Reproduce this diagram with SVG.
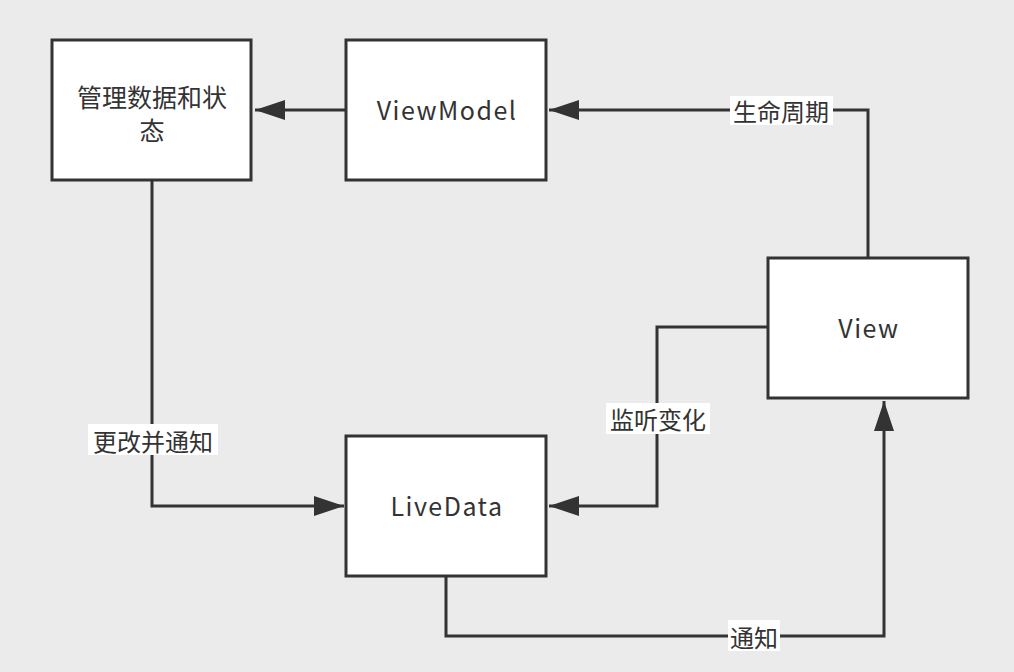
<svg xmlns="http://www.w3.org/2000/svg" width="1014" height="672" viewBox="0 0 1014 672">
<style>
.node rect{fill:#fff;stroke:#333;stroke-width:3}
.node text,.lbl text{font-family:"Noto Sans CJK SC","Noto Sans",sans-serif;font-size:24px;fill:#333;text-anchor:middle;dominant-baseline:central}
.node text{font-size:25px}
.node text.en{letter-spacing:1.5px}
.edge{fill:none;stroke:#333;stroke-width:3}
.lbl rect{fill:#fff}
</style>
<defs>
<marker id="ah" markerUnits="userSpaceOnUse" viewBox="0 0 30 20" refX="30" refY="10" markerWidth="30" markerHeight="20" orient="auto">
<path d="M0,0 L30,10 L0,20 Z" fill="#333"/>
</marker>
</defs>
<rect width="1014" height="672" fill="#ebebeb"/>
<g id="connectors">
<path class="edge" d="M346,110 L255,110" marker-end="url(#ah)"/>
<path class="edge" d="M868,258 L868,110 L549,110" marker-end="url(#ah)"/>
<path class="edge" d="M768,327 L657,327 L657,506 L549,506" marker-end="url(#ah)"/>
<path class="edge" d="M152,180 L152,506 L344,506" marker-end="url(#ah)"/>
<path class="edge" d="M446,576 L446,636 L884,636 L884,401" marker-end="url(#ah)"/>
<g class="lbl">
<rect x="730" y="96" width="103" height="29"/><text x="781" y="110">生命周期</text>
<rect x="606" y="403" width="104" height="31"/><text x="658" y="418">监听变化</text>
<rect x="88" y="424" width="130" height="31"/><text x="153" y="440">更改并通知</text>
<rect x="728" y="620" width="52" height="31"/><text x="754" y="636">通知</text>
</g>
</g>
<g id="node-state" class="node"><rect x="52" y="40" width="199" height="140"/><text x="152" y="96">管理数据和状</text><text x="152" y="129">态</text></g>
<g id="node-viewmodel" class="node"><rect x="346" y="40" width="200" height="140"/><text class="en" x="447" y="109">ViewModel</text></g>
<g id="node-view" class="node"><rect x="768" y="258" width="200" height="140"/><text class="en" x="869" y="327">View</text></g>
<g id="node-livedata" class="node"><rect x="346" y="436" width="200" height="140"/><text class="en" x="447" y="505">LiveData</text></g>
</svg>
